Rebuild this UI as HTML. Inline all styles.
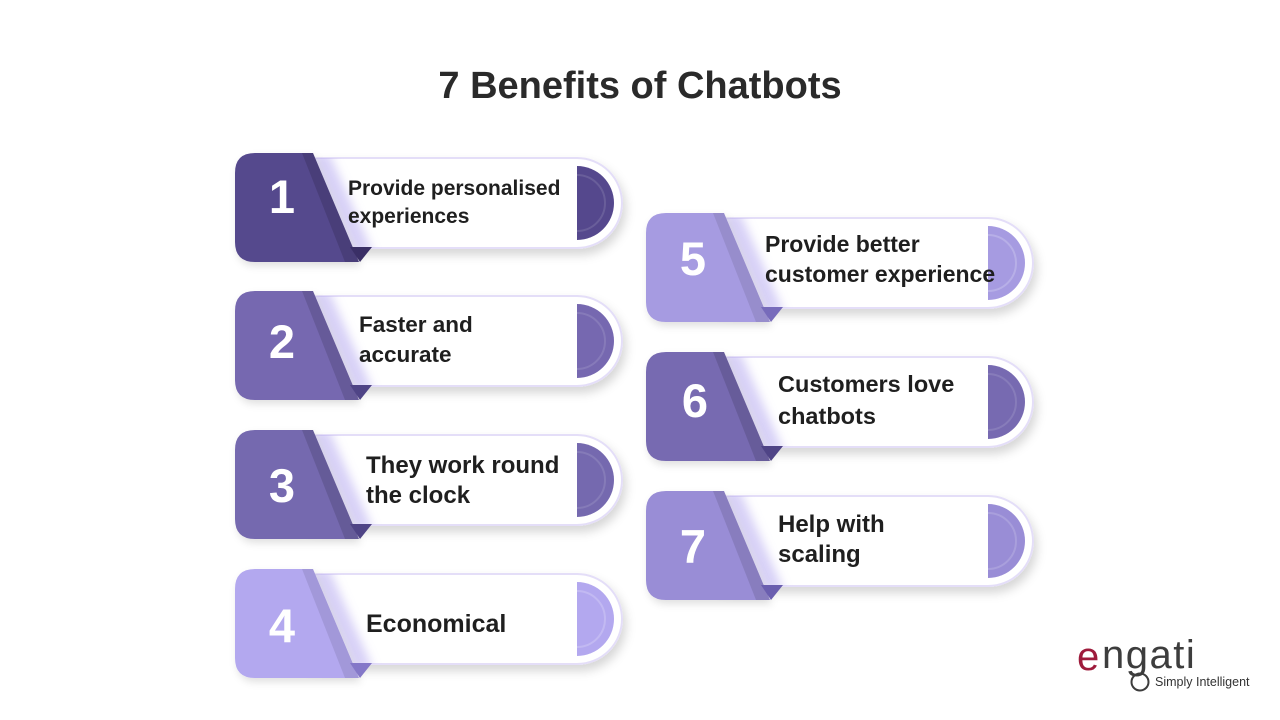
<!DOCTYPE html>
<html>
<head>
<meta charset="utf-8">
<style>
  html,body{margin:0;padding:0;background:#fff;}
  svg{display:block;}
  .num{font-family:"Liberation Sans",sans-serif;font-weight:bold;font-size:47px;fill:#fff;text-anchor:middle;}
  .lbl{font-family:"Liberation Sans",sans-serif;font-weight:bold;fill:#1f1f1f;}
</style>
</head>
<body>
<svg width="1280" height="720" viewBox="0 0 1280 720" xmlns="http://www.w3.org/2000/svg">
  <defs>
    <filter id="sh" x="-20%" y="-30%" width="140%" height="170%">
      <feDropShadow dx="3" dy="6" stdDeviation="5" flood-color="#000" flood-opacity="0.16"/>
    </filter>
    <filter id="sh2" x="-20%" y="-20%" width="140%" height="150%">
      <feDropShadow dx="2" dy="4" stdDeviation="4" flood-color="#000" flood-opacity="0.12"/>
    </filter>
    <filter id="bl" x="-50%" y="-20%" width="200%" height="140%">
      <feGaussianBlur stdDeviation="5"/>
    </filter>
    <clipPath id="pillclip">
      <rect x="40" y="5" width="347" height="90" rx="45"/>
    </clipPath>
    <g id="base">
      <rect x="40" y="5" width="347" height="90" rx="45" fill="#fff" stroke="#e4def8" stroke-width="2" filter="url(#sh)"/>
      <g clip-path="url(#pillclip)">
        <polygon points="76,0 94,0 138,100 120,100" fill="#b5a9f0" opacity="0.55" filter="url(#bl)"/>
      </g>
    </g>
  </defs>

  <rect width="1280" height="720" fill="#fff"/>

  <text x="640" y="98" text-anchor="middle" font-family="Liberation Sans, sans-serif" font-weight="bold" font-size="38" fill="#2a2a2a">7 Benefits of Chatbots</text>

  <!-- Card 1 -->
  <g transform="translate(235,153)">
    <use href="#base"/>
    <path d="M342,13 A37,37 0 0 1 342,87 Z" fill="#55488d"/>
    <path d="M342,22 A28,28 0 0 1 342,78" fill="none" stroke="#fff" stroke-opacity="0.12" stroke-width="2"/>
    <path d="M20,0 H78 L124,109 H20 Q0,109 0,89 V20 Q0,0 20,0 Z" fill="#55488d" filter="url(#sh2)"/>
    <polygon points="67,0 78,0 124,109 110,109" fill="#000" opacity="0.14"/>
    <polygon points="115,94 137,94 125,109" fill="#3a2f66"/>
  </g>
  <text class="num" x="282" y="213">1</text>
  <text class="lbl" font-size="21"><tspan x="348" y="195">Provide personalised</tspan><tspan x="348" y="223">experiences</tspan></text>

  <!-- Card 2 -->
  <g transform="translate(235,291)">
    <use href="#base"/>
    <path d="M342,13 A37,37 0 0 1 342,87 Z" fill="#7668b0"/>
    <path d="M342,22 A28,28 0 0 1 342,78" fill="none" stroke="#fff" stroke-opacity="0.12" stroke-width="2"/>
    <path d="M20,0 H78 L124,109 H20 Q0,109 0,89 V20 Q0,0 20,0 Z" fill="#7668b0" filter="url(#sh2)"/>
    <polygon points="67,0 78,0 124,109 110,109" fill="#000" opacity="0.13"/>
    <polygon points="115,94 137,94 125,109" fill="#4f4486"/>
  </g>
  <text class="num" x="282" y="358">2</text>
  <text class="lbl" font-size="22.5"><tspan x="359" y="332">Faster and</tspan><tspan x="359" y="362">accurate</tspan></text>

  <!-- Card 3 -->
  <g transform="translate(235,430)">
    <use href="#base"/>
    <path d="M342,13 A37,37 0 0 1 342,87 Z" fill="#7569af"/>
    <path d="M342,22 A28,28 0 0 1 342,78" fill="none" stroke="#fff" stroke-opacity="0.12" stroke-width="2"/>
    <path d="M20,0 H78 L124,109 H20 Q0,109 0,89 V20 Q0,0 20,0 Z" fill="#7569af" filter="url(#sh2)"/>
    <polygon points="67,0 78,0 124,109 110,109" fill="#000" opacity="0.13"/>
    <polygon points="115,94 137,94 125,109" fill="#4f4486"/>
  </g>
  <text class="num" x="282" y="502">3</text>
  <text class="lbl" font-size="24"><tspan x="366" y="473">They work round</tspan><tspan x="366" y="503">the clock</tspan></text>

  <!-- Card 4 -->
  <g transform="translate(235,569)">
    <use href="#base"/>
    <path d="M342,13 A37,37 0 0 1 342,87 Z" fill="#b3a8ef"/>
    <path d="M342,22 A28,28 0 0 1 342,78" fill="none" stroke="#fff" stroke-opacity="0.2" stroke-width="2"/>
    <path d="M20,0 H78 L124,109 H20 Q0,109 0,89 V20 Q0,0 20,0 Z" fill="#b3a8ef" filter="url(#sh2)"/>
    <polygon points="67,0 78,0 124,109 110,109" fill="#000" opacity="0.09"/>
    <polygon points="115,94 137,94 125,109" fill="#8478c8"/>
  </g>
  <text class="num" x="282" y="642">4</text>
  <text class="lbl" font-size="25"><tspan x="366" y="632">Economical</tspan></text>

  <!-- Card 5 -->
  <g transform="translate(646,213)">
    <use href="#base"/>
    <path d="M342,13 A37,37 0 0 1 342,87 Z" fill="#a69be1"/>
    <path d="M342,22 A28,28 0 0 1 342,78" fill="none" stroke="#fff" stroke-opacity="0.2" stroke-width="2"/>
    <path d="M20,0 H78 L124,109 H20 Q0,109 0,89 V20 Q0,0 20,0 Z" fill="#a69be1" filter="url(#sh2)"/>
    <polygon points="67,0 78,0 124,109 110,109" fill="#000" opacity="0.09"/>
    <polygon points="115,94 137,94 125,109" fill="#776bbb"/>
  </g>
  <text class="num" x="693" y="275">5</text>
  <text class="lbl" font-size="23"><tspan x="765" y="252">Provide better</tspan><tspan x="765" y="282">customer experience</tspan></text>

  <!-- Card 6 -->
  <g transform="translate(646,352)">
    <use href="#base"/>
    <path d="M342,13 A37,37 0 0 1 342,87 Z" fill="#776ab1"/>
    <path d="M342,22 A28,28 0 0 1 342,78" fill="none" stroke="#fff" stroke-opacity="0.12" stroke-width="2"/>
    <path d="M20,0 H78 L124,109 H20 Q0,109 0,89 V20 Q0,0 20,0 Z" fill="#776ab1" filter="url(#sh2)"/>
    <polygon points="67,0 78,0 124,109 110,109" fill="#000" opacity="0.13"/>
    <polygon points="115,94 137,94 125,109" fill="#4f4486"/>
  </g>
  <text class="num" x="695" y="417">6</text>
  <text class="lbl" font-size="23.5"><tspan x="778" y="392">Customers love</tspan><tspan x="778" y="424">chatbots</tspan></text>

  <!-- Card 7 -->
  <g transform="translate(646,491)">
    <use href="#base"/>
    <path d="M342,13 A37,37 0 0 1 342,87 Z" fill="#998dd6"/>
    <path d="M342,22 A28,28 0 0 1 342,78" fill="none" stroke="#fff" stroke-opacity="0.16" stroke-width="2"/>
    <path d="M20,0 H78 L124,109 H20 Q0,109 0,89 V20 Q0,0 20,0 Z" fill="#998dd6" filter="url(#sh2)"/>
    <polygon points="67,0 78,0 124,109 110,109" fill="#000" opacity="0.11"/>
    <polygon points="115,94 137,94 125,109" fill="#6a5eaf"/>
  </g>
  <text class="num" x="693" y="563">7</text>
  <text class="lbl" font-size="24"><tspan x="778" y="532">Help with</tspan><tspan x="778" y="562">scaling</tspan></text>

  <!-- Logo -->
  <text x="1077" y="670" font-family="Liberation Sans, sans-serif" font-size="40" fill="#9e1b3c">e</text>
  <text x="1102" y="668" font-family="Liberation Sans, sans-serif" font-size="40" fill="#3d3d3d" letter-spacing="1.5">ngati</text>
  <circle cx="1140" cy="682" r="8.5" fill="none" stroke="#3d3d3d" stroke-width="2"/>
  <text x="1155" y="686" font-family="Liberation Sans, sans-serif" font-size="12.5" fill="#333">Simply Intelligent</text>
</svg>
</body>
</html>
